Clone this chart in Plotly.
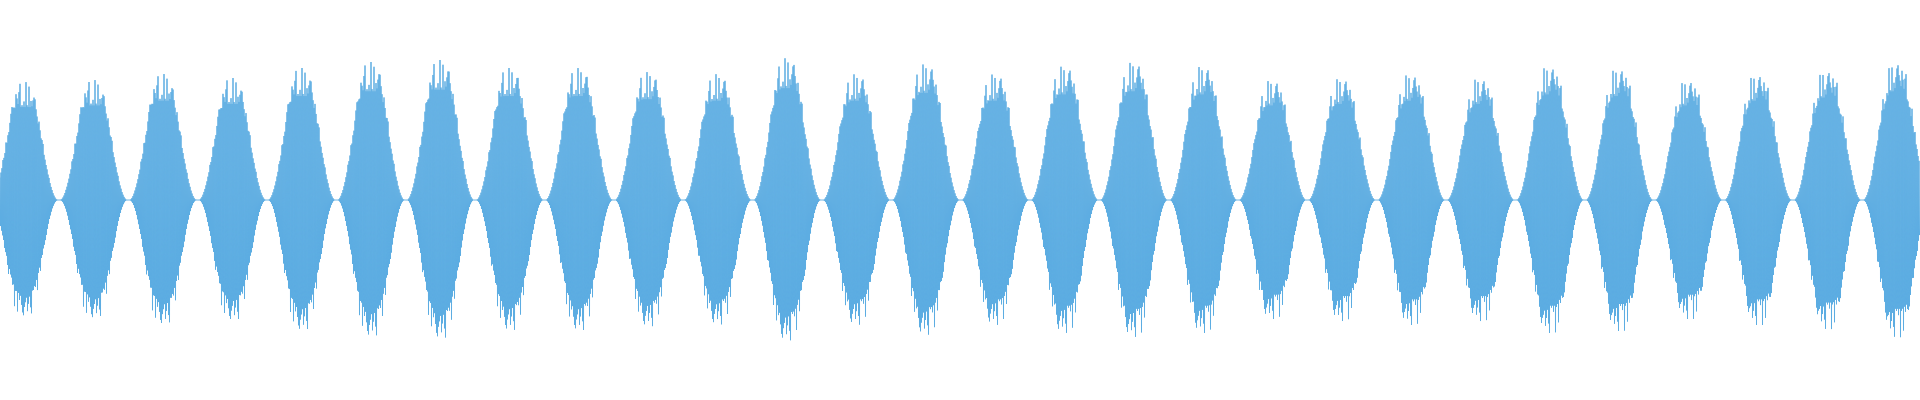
import numpy as np
import plotly.graph_objects as go

# peak amplitude of each lobe (spike tips), y range is -1..1
LOBE_PEAKS = [0.59, 0.60, 0.63, 0.61, 0.66, 0.69, 0.70, 0.66, 0.66, 0.64,
              0.63, 0.71, 0.63, 0.68, 0.63, 0.67, 0.69, 0.67, 0.60, 0.61,
              0.63, 0.61, 0.67, 0.66, 0.60, 0.63, 0.65, 0.69]
# relative overshoot of carrier peaks above the smooth envelope
SPIKE_PATTERN = [0.00, 0.24, 0.06, 0.15, 0.00, 0.10, 0.27, 0.05, 0.02, 0.20,
                 0.00, 0.12, 0.23, 0.04, 0.00, 0.17, 0.08, 0.26, 0.03, 0.00,
                 0.13, 0.02, 0.21]
WIDTH_PX = 1920
SAMPLES_PER_PX = 2
NODE_OFFSET = -10.35
LOBE_WIDTH = 69.35
NECK = 0.03   # flat part near each node (fraction of half lobe)
RISE = 0.82   # part of half lobe taken by the rise

n = WIDTH_PX * SAMPLES_PER_PX
i = np.arange(n)
x = i / SAMPLES_PER_PX
phase = (x - NODE_OFFSET) / LOBE_WIDTH
lobe = np.floor(phase).astype(int)
u = 1 - np.abs(2 * (phase - lobe) - 1)          # 0 at nodes, 1 at lobe centre
env = np.sin(np.pi / 2 * np.clip((u - NECK) / RISE, 0, 1)) ** 2
dome = np.sin(np.pi / 2 * u) ** 2
peak = np.array(LOBE_PEAKS)[lobe]
spike = np.array(SPIKE_PATTERN)[i % len(SPIKE_PATTERN)]
base = peak / (1 + max(SPIKE_PATTERN))
y = np.where(i % 2 == 0, 1, -1) * base * env * (1 + spike * dome)

fig = go.Figure(
    go.Scatter(
        x=x, y=y, mode="lines",
        line=dict(color="#5DADE2", width=1, simplify=False),
        hoverinfo="skip",
    )
)
fig.update_layout(
    width=1920, height=400,
    margin=dict(l=0, r=0, t=0, b=0),
    paper_bgcolor="white", plot_bgcolor="white",
    showlegend=False,
)
fig.update_xaxes(visible=False, range=[0, WIDTH_PX])
fig.update_yaxes(visible=False, range=[-1, 1])

fig.write_html(
    "out.html",
    config={"displayModeBar": False},
    post_script="document.body.style.margin = '0';",
)
